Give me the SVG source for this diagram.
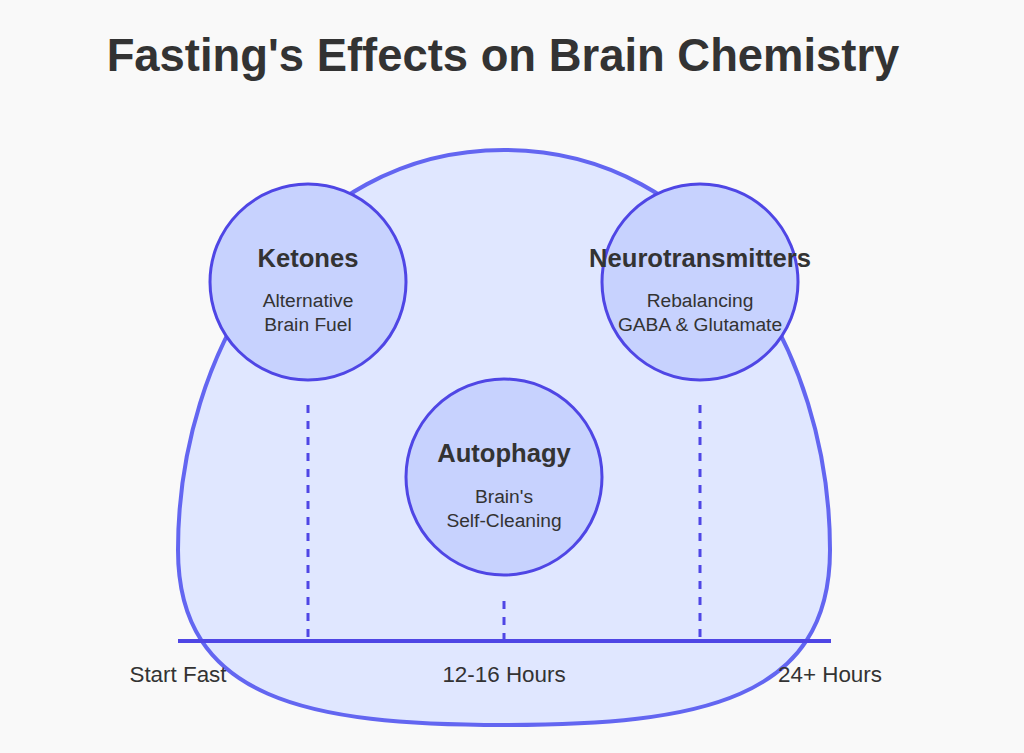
<svg xmlns="http://www.w3.org/2000/svg" width="1024" height="753" viewBox="0 0 1024 753">
<style>
.title{font-family:"Liberation Sans",Arial,sans-serif;font-weight:bold;font-size:45.4px;fill:#333;text-anchor:middle}
.ntitle{font-family:"Liberation Sans",Arial,sans-serif;font-weight:bold;font-size:25.6px;fill:#333;text-anchor:middle}
.nsub{font-family:"Liberation Sans",Arial,sans-serif;font-size:19.2px;fill:#333;text-anchor:middle}
.lbl{font-family:"Liberation Sans",Arial,sans-serif;font-size:22.4px;fill:#333;text-anchor:middle}
.node{fill:#c7d2fe;stroke:#4f46e5;stroke-width:3}
.dash{stroke:#4f46e5;stroke-width:3;stroke-dasharray:8 8;fill:none}
</style>
<rect width="1024" height="753" fill="#f9f9f9"/>
<text class="title" x="503" y="71">Fasting's Effects on Brain Chemistry</text>
<g id="brain">
<path d="M 178 550 C 178 350, 299 150, 504 150 C 709 150, 830 350, 830 550 C 830 700, 699 725, 504 725 C 309 725, 178 700, 178 550 Z" fill="#e0e7ff" stroke="#6366f1" stroke-width="4"/>
</g>
<g id="connectors">
<line class="dash" x1="308" y1="405" x2="308" y2="641"/>
<line class="dash" x1="700" y1="405" x2="700" y2="641"/>
<line class="dash" x1="504" y1="601" x2="504" y2="641"/>
<line x1="178" y1="641" x2="831" y2="641" stroke="#4f46e5" stroke-width="4"/>
</g>
<g id="ketones">
<circle class="node" cx="308" cy="282" r="98"/>
<text class="ntitle" x="308" y="266.5">Ketones</text>
<text class="nsub" x="308" y="306.5">Alternative</text>
<text class="nsub" x="308" y="330.5">Brain Fuel</text>
</g>
<g id="neurotransmitters">
<circle class="node" cx="700" cy="282" r="98"/>
<text class="ntitle" x="700" y="266.5">Neurotransmitters</text>
<text class="nsub" x="700" y="306.5">Rebalancing</text>
<text class="nsub" x="700" y="330.5">GABA &amp; Glutamate</text>
</g>
<g id="autophagy">
<circle class="node" cx="504" cy="477" r="98"/>
<text class="ntitle" x="504" y="461.5">Autophagy</text>
<text class="nsub" x="504" y="502.5">Brain's</text>
<text class="nsub" x="504" y="526.5">Self-Cleaning</text>
</g>
<g id="timeline-labels">
<text class="lbl" x="178" y="681.7">Start Fast</text>
<text class="lbl" x="504" y="681.7">12-16 Hours</text>
<text class="lbl" x="830" y="681.7">24+ Hours</text>
</g>
</svg>
